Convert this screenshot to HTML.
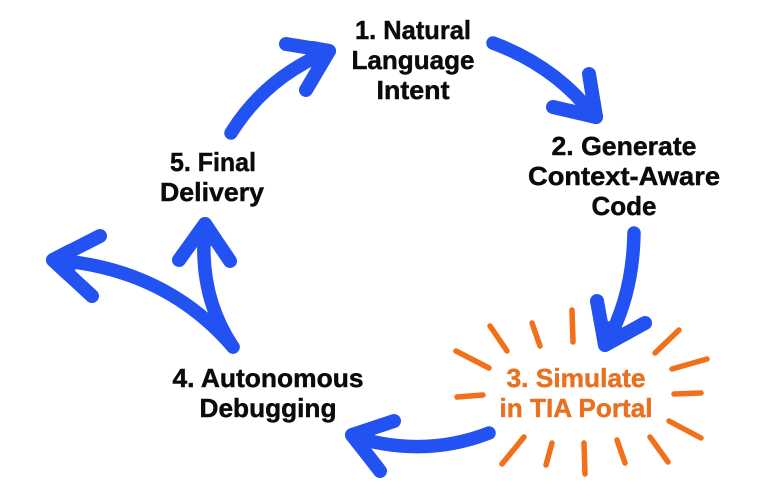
<!DOCTYPE html>
<html>
<head>
<meta charset="utf-8">
<style>
html,body{margin:0;padding:0;background:#fff;width:757px;height:504px;overflow:hidden}
svg{display:block}
text{font-family:"Liberation Sans",Arial,sans-serif;font-weight:700;font-size:26px;text-anchor:middle;fill:#0b0b0b;stroke:#0b0b0b;stroke-width:.45px}
.o{fill:#e8701f;stroke:#e8701f}
.a{fill:none;stroke:#2352f2;stroke-width:13.5;stroke-linecap:round;stroke-linejoin:round}
.h{fill:#2352f2;stroke:#2352f2;stroke-width:14;stroke-linecap:round;stroke-linejoin:round}
.r{fill:none;stroke:#f2701a;stroke-width:5.5;stroke-linecap:round}
</style>
</head>
<body>
<svg width="757" height="504" viewBox="0 0 757 504" xmlns="http://www.w3.org/2000/svg">
<rect width="757" height="504" fill="#fff"/>
<!-- arrows -->
<path class="a" d="M231 133Q265 78 327 52"/>
<path class="h" style="fill:none" d="M286 44L329 51L306 90"/>
<polygon class="h" points="329,51 313,48 320,65"/>
<path class="a" d="M493 43Q555 66 593 115"/>
<path class="h" style="fill:none" d="M589 74L596 117L553 107"/>
<polygon class="h" points="596,117 593,99 579,111"/>
<path class="a" d="M634 233Q633 295 607 342"/>
<path class="h" style="fill:none" d="M597 301L605 345L645 323"/>
<polygon class="h" points="605,345 602,326 622,335"/>
<path class="a" d="M489 433Q425 458 354 437"/>
<path class="h" style="fill:none" d="M394 421L352 435L380 471"/>
<polygon class="h" points="352,435 369,430 363,449"/>
<path class="a" d="M233 347Q165 268 54 260"/>
<path class="h" style="fill:none" d="M100 236L53 260L92 296"/>
<polygon class="h" points="53,260 70,251 68,274"/>
<path class="a" d="M233 347Q198 295 205 226"/>
<path class="h" style="fill:none" d="M179 260L205 224L230 261"/>
<polygon class="h" points="205,224 195,238 215,239"/>
<!-- rays -->
<path class="r" d="M490 326L507 351M532 323L540 346M572 310L573 342M679 330L655 353M707 359L672 369M674 394L701 393M669 421L701 438M650 437L668 462M617 440L625 463M584 443L585 474M552 443L546 465M524 437L502 464M457 397L483 395M456 351L489 368"/>
<!-- labels -->
<text x="413" y="39" textLength="116" lengthAdjust="spacingAndGlyphs">1. Natural</text>
<text x="413" y="69" textLength="123" lengthAdjust="spacingAndGlyphs">Language</text>
<text x="413" y="99" textLength="73" lengthAdjust="spacingAndGlyphs">Intent</text>
<text x="624" y="155" textLength="145" lengthAdjust="spacingAndGlyphs">2. Generate</text>
<text x="624" y="185" textLength="192" lengthAdjust="spacingAndGlyphs">Context-Aware</text>
<text x="624" y="215" textLength="65" lengthAdjust="spacingAndGlyphs">Code</text>
<text x="213" y="171" textLength="86" lengthAdjust="spacingAndGlyphs">5. Final</text>
<text x="212" y="201" textLength="104" lengthAdjust="spacingAndGlyphs">Delivery</text>
<text x="268" y="387" textLength="191" lengthAdjust="spacingAndGlyphs">4. Autonomous</text>
<text x="268" y="417" textLength="137" lengthAdjust="spacingAndGlyphs">Debugging</text>
<text class="o" x="576" y="387" textLength="139" lengthAdjust="spacingAndGlyphs">3. Simulate</text>
<text class="o" x="576" y="417" textLength="153" lengthAdjust="spacingAndGlyphs">in TIA Portal</text>
</svg>
</body>
</html>
